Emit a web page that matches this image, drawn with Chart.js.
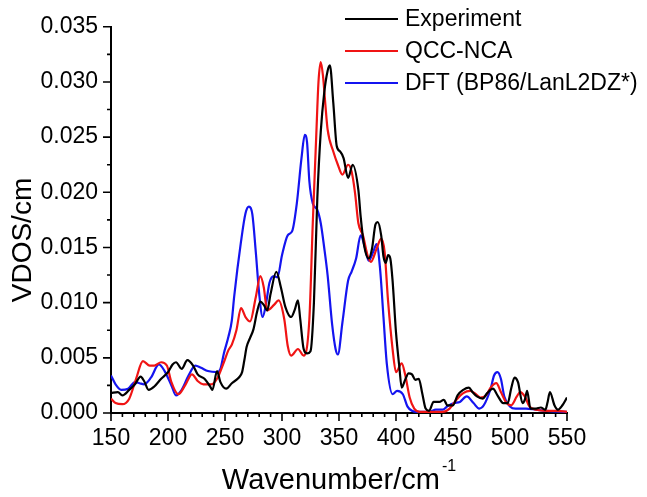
<!DOCTYPE html>
<html>
<head>
<meta charset="utf-8">
<script src="https://cdn.jsdelivr.net/npm/chart.js@4.4.1/dist/chart.umd.min.js"></script>
<style>
  html, body { margin: 0; padding: 0; background: #fff; }
  #wrap { width: 647px; height: 497px; position: relative; }
</style>
</head>
<body>
<div id="wrap"><canvas id="vdos"></canvas></div>
<script>
// --- data: [wavenumber (cm-1), VDOS (1/cm)] ---
const experiment = [
  [150,0.0018],[156,0.0019],[160,0.0016],[166,0.0021],[171,0.0026],[176,0.0033],[179,0.0029],
  [183,0.0021],[188,0.0024],[194,0.0031],[200,0.0037],[204,0.0044],[207,0.0046],[212,0.0040],
  [217,0.0048],[222,0.0043],[226,0.0035],[232,0.0031],[237,0.0024],[239,0.0021],[243,0.0038],
  [246,0.0028],[251,0.0022],[256,0.0027],[262,0.0032],[265,0.0037],[267,0.0048],[269,0.0060],
  [272,0.0068],[275,0.0076],[278,0.0091],[281,0.0101],[284,0.0098],[287,0.0093],[290,0.0108],
  [295,0.0128],[299,0.0114],[303,0.0096],[308,0.0087],[311,0.0093],[314,0.0102],[316,0.0085],
  [319,0.0058],[322,0.0054],[325,0.0056],[328,0.0100],[331,0.0195],[334,0.0255],[337,0.0290],
  [340,0.0310],[342,0.0315],[345,0.0281],[348,0.0242],[351,0.0237],[354,0.0231],[358,0.0213],
  [362,0.0225],[367,0.0202],[369,0.0178],[372,0.0152],[376,0.0140],[379,0.0149],[382,0.0171],
  [384,0.0173],[387,0.0161],[389,0.0142],[391,0.0136],[393,0.0143],[395,0.0140],[397,0.0120],
  [400,0.0073],[403,0.0041],[405,0.0023],[408,0.0030],[411,0.0036],[414,0.0035],[417,0.0030],
  [420,0.0031],[423,0.0018],[426,0.0004],[429,0.0002],[433,0.0010],[438,0.0010],[442,0.0012],
  [445,0.0007],[450,0.0007],[454,0.0016],[459,0.0021],[464,0.0023],[467,0.0019],[471,0.0015],
  [476,0.0013],[480,0.0018],[485,0.0022],[489,0.0016],[494,0.0009],[498,0.0009],[501,0.0022],
  [504,0.0032],[507,0.0028],[511,0.0009],[513,0.0012],[515,0.0020],[518,0.0004],[523,0.0004],
  [527,0.0005],[531,0.0003],[533,0.0010],[535,0.0019],[539,0.0007],[542,0.0003],[546,0.0007],
  [550,0.0014]
];
const qccNca = [
  [150,0.0013],[154,0.0009],[160,0.0008],[166,0.0013],[172,0.0031],[178,0.0047],[184,0.0043],
  [188,0.0043],[194,0.0046],[199,0.0043],[203,0.0028],[209,0.0017],[215,0.0025],[221,0.0035],
  [226,0.0029],[231,0.0026],[238,0.0026],[243,0.0031],[249,0.0046],[253,0.0057],[256,0.0062],
  [260,0.0075],[264,0.0095],[268,0.0087],[272,0.0083],[277,0.0105],[281,0.0124],[284,0.0114],
  [287,0.0093],[293,0.0098],[297,0.0102],[302,0.0085],[305,0.0061],[308,0.0052],[314,0.0058],
  [319,0.0052],[324,0.0085],[327,0.0172],[330,0.0250],[332,0.0300],[334,0.0318],[336,0.0305],
  [338,0.0280],[340,0.0257],[345,0.0237],[349,0.0225],[353,0.0216],[358,0.0225],[361,0.0219],
  [364,0.0200],[367,0.0172],[371,0.0161],[375,0.0143],[378,0.0137],[383,0.0149],[387,0.0158],
  [390,0.0146],[393,0.0102],[397,0.0058],[400,0.0037],[405,0.0045],[408,0.0035],[412,0.0014],
  [416,0.0004],[421,0.0001],[441,0.0001],[447,0.0004],[453,0.0012],[459,0.0018],[465,0.0020],
  [469,0.0018],[474,0.0014],[479,0.0016],[483,0.0023],[488,0.0027],[492,0.0019],[497,0.0009],
  [501,0.0007],[506,0.0015],[509,0.0019],[513,0.0015],[517,0.0006],[523,0.0003],[532,0.0002],
  [541,0.0002],[550,0.0001]
];
const dftBp86 = [
  [150,0.0034],[154,0.0026],[159,0.0021],[165,0.0022],[171,0.0028],[175,0.0027],[179,0.0026],
  [185,0.0032],[192,0.0044],[197,0.0038],[203,0.0025],[207,0.0016],[212,0.0021],[218,0.0034],
  [224,0.0043],[229,0.0041],[235,0.0038],[243,0.0037],[246,0.0040],[249,0.0054],[253,0.0069],
  [256,0.0084],[258,0.0105],[264,0.0155],[268,0.0181],[271,0.0187],[274,0.0180],[277,0.0146],
  [280,0.0108],[283,0.0087],[286,0.0099],[289,0.0118],[293,0.0124],[296,0.0123],[300,0.0143],
  [305,0.0161],[309,0.0165],[313,0.0190],[317,0.0230],[320,0.0252],[322,0.0245],[324,0.0210],
  [327,0.0190],[331,0.0184],[334,0.0172],[337,0.0150],[340,0.0125],[344,0.0080],[347,0.0058],
  [349,0.0053],[353,0.0082],[358,0.0120],[361,0.0128],[365,0.0140],[369,0.0161],[373,0.0149],
  [376,0.0138],[380,0.0146],[383,0.0153],[386,0.0131],[389,0.0087],[392,0.0044],[397,0.0017],
  [401,0.0020],[406,0.0017],[410,0.0006],[414,0.0002],[418,0.0001],[429,0.0001],[435,0.0003],
  [441,0.0003],[445,0.0006],[451,0.0009],[456,0.0010],[462,0.0015],[468,0.0009],[473,0.0004],
  [477,0.0007],[483,0.0022],[486,0.0034],[489,0.0037],[492,0.0031],[495,0.0015],[500,0.0006],
  [505,0.0004],[514,0.0004],[523,0.0003],[532,0.0002],[550,0.0001]
];
const seriesNames = ['Experiment', 'QCC-NCA', 'DFT (BP86/LanL2DZ*)'];
const seriesColors = ['#000000', '#f01414', '#1414f0'];
const xRange = [150, 550];     // major ticks every 50, minor every 10
const yRange = [0, 0.035];     // major ticks every 0.005, minor every 0.0025

const FONT = "'Liberation Sans', Arial, sans-serif";

// ticks (major + minor), axis titles and the in-plot legend
const decor = {
  id: 'decor',
  afterDraw(chart) {
    const { ctx, chartArea: a, scales: { x, y } } = chart;
    ctx.save();
    ctx.strokeStyle = '#000';
    ctx.lineWidth = 1.6;
    ctx.beginPath();
    for (let i = 0; i <= 40; i++) {
      const px = x.getPixelForValue(xRange[0] + i * 10);
      ctx.moveTo(px, a.bottom);
      ctx.lineTo(px, a.bottom + (i % 5 === 0 ? 8 : 4));
    }
    for (let i = 0; i <= 14; i++) {
      const py = y.getPixelForValue(i * 0.0025);
      ctx.moveTo(a.left, py);
      ctx.lineTo(a.left - (i % 2 === 0 ? 8 : 4), py);
    }
    ctx.stroke();

    ctx.fillStyle = '#000';
    // x title with superscript
    ctx.textBaseline = 'alphabetic';
    ctx.font = '29px ' + FONT;
    const main = 'Wavenumber/cm';
    const mw = ctx.measureText(main).width;
    ctx.font = '16px ' + FONT;
    const sw = ctx.measureText('-1').width;
    const cx = (a.left + a.right) / 2;
    const x0 = cx - (mw + sw + 2) / 2;
    ctx.font = '29px ' + FONT;
    ctx.textAlign = 'left';
    ctx.fillText(main, x0, 489);
    ctx.font = '16px ' + FONT;
    ctx.fillText('-1', x0 + mw + 2, 471);

    // y title
    ctx.save();
    ctx.translate(31, 240);
    ctx.rotate(-Math.PI / 2);
    ctx.font = '28px ' + FONT;
    ctx.textAlign = 'center';
    ctx.fillText('VDOS/cm', 0, 0);
    ctx.restore();

    // legend
    ctx.font = '23px ' + FONT;
    ctx.textAlign = 'left';
    ctx.textBaseline = 'middle';
    chart.data.datasets.forEach((ds, i) => {
      const ly = 19 + i * 32;
      ctx.strokeStyle = ds.borderColor;
      ctx.lineWidth = 2;
      ctx.beginPath();
      ctx.moveTo(345, ly);
      ctx.lineTo(398, ly);
      ctx.stroke();
      ctx.fillText(ds.label, 405, ly + 1);
    });
    ctx.restore();
  }
};

const toPoints = arr => arr.map(p => ({ x: p[0], y: p[1] }));

new Chart(document.getElementById('vdos'), {
  type: 'line',
  data: {
    datasets: [experiment, qccNca, dftBp86].map((s, i) => ({
      label: seriesNames[i],
      data: toPoints(s),
      borderColor: seriesColors[i],
      borderWidth: 2.2,
      pointRadius: 0,
      fill: false,
      cubicInterpolationMode: 'monotone'
    }))
  },
  options: {
    responsive: true,
    maintainAspectRatio: false,
    animation: false,
    devicePixelRatio: 1,
    layout: { padding: { top: 14, right: 80, left: 0, bottom: 0 } },
    plugins: { legend: { display: false }, tooltip: { enabled: false } },
    scales: {
      x: {
        type: 'linear',
        min: xRange[0], max: xRange[1],
        grid: { display: false, drawTicks: false },
        border: { display: true, color: '#000', width: 2 },
        ticks: { stepSize: 50, padding: 12, color: '#000', font: { family: FONT, size: 23 }, maxRotation: 0 },
        afterFit: s => { s.height = 84; }
      },
      y: {
        min: yRange[0], max: yRange[1],
        grid: { display: false, drawTicks: false },
        border: { display: true, color: '#000', width: 2 },
        ticks: { stepSize: 0.005, padding: 13, color: '#000', font: { family: FONT, size: 23 },
                 callback: v => v.toFixed(3) },
        afterFit: s => { s.width = 111; }
      }
    }
  },
  plugins: [decor]
});
</script>
</body>
</html>
